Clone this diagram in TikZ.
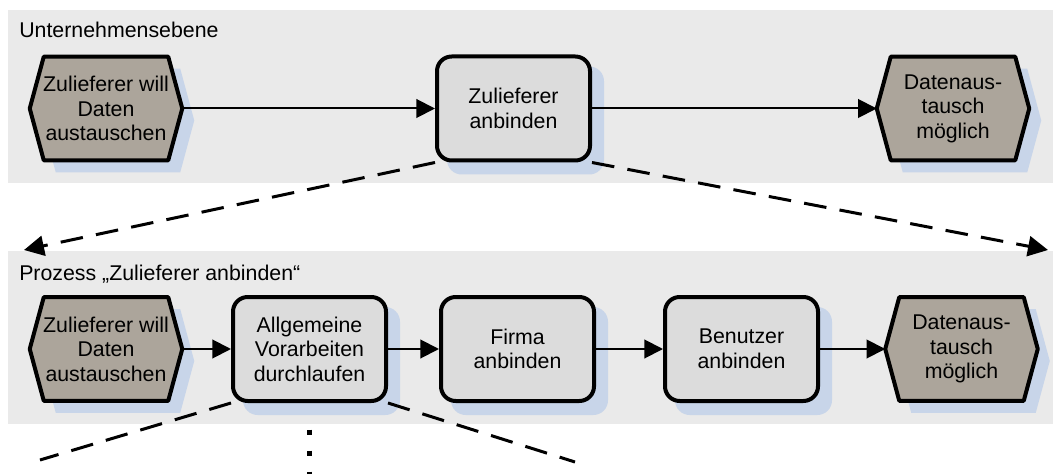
\documentclass[tikz,border=0pt]{standalone}
\usepackage{fontspec}
\setmainfont{Liberation Sans}
\usetikzlibrary{arrows.meta,calc}

\definecolor{panelgray}{HTML}{EAEAEA}
\definecolor{eventfill}{HTML}{ACA59B}
\definecolor{funcfill}{HTML}{DCDCDC}
\definecolor{shadowblue}{HTML}{C8D5E9}

\pgfdeclarelayer{panels}
\pgfdeclarelayer{shadows}
\pgfdeclarelayer{outlines}
\pgfsetlayers{panels,shadows,outlines,main}

\begin{document}
\begin{tikzpicture}[x=0.75pt,y=-0.75pt,
  txt/.style={font=\fontsize{16}{18.4}\selectfont},
  panel/.style={fill=panelgray,draw=none},
  paneltitle/.style={txt,anchor=base west,inner sep=0pt},
  func/.style={txt,rectangle,rounded corners=11pt,draw=black,line width=3pt,
    fill=funcfill,minimum width=114.75pt,minimum height=78pt,align=center,inner sep=0pt},
  event/.style={txt,rectangle,draw=none,minimum width=114pt,minimum height=77.25pt,
    align=center,inner sep=0pt},
  eventline/.style={draw=black,line width=3pt,fill=eventfill,line join=round},
  shade/.style={fill=shadowblue},
  flow/.style={line width=1.5pt,-{Triangle[length=14pt,width=14pt]}},
  refine/.style={line width=2.25pt,dash pattern=on 17pt off 10pt},
  refinearrow/.style={refine,-{Triangle[length=15pt,width=15pt]}},
  dots/.style={line width=3.75pt,dash pattern=on 3.75pt off 12pt}
]
\useasboundingbox (0,0) rectangle (1053,474);

% level panels
\begin{pgfonlayer}{panels}
  \path[panel] (8,10) rectangle (1053,183);
  \path[panel] (8,251) rectangle (1053,424);
\end{pgfonlayer}

\node[paneltitle] (t1) at (19,38) {Unternehmensebene};
\node[paneltitle] (t2) at (19,280) {Prozess „Zulieferer anbinden“};

% upper level
\node[event] (e1) at (106,108.5) {Zulieferer will\\Daten\\austauschen};
\node[func]  (f0) at (513.5,108.5) {Zulieferer\\anbinden};
\node[event] (e2) at (953,108.5) {Datenaus-\\tausch\\möglich};

% lower level
\node[event] (e3) at (106,349) {Zulieferer will\\Daten\\austauschen};
\node[func]  (f1) at (309.5,349) {Allgemeine\\Vorarbeiten\\durchlaufen};
\node[func]  (f2) at (517.5,349) {Firma\\anbinden};
\node[func]  (f3) at (741.5,349) {Benutzer\\anbinden};
\node[event] (e4) at (961.5,349) {Datenaus-\\tausch\\möglich};

% hexagonal event outlines and drop shadows
\begin{pgfonlayer}{outlines}
  \foreach \n in {e1,e2,e3,e4} {
    \path[eventline] (\n.west) -- ($(\n.north west)+(14,0)$) -- ($(\n.north east)+(-14,0)$)
      -- (\n.east) -- ($(\n.south east)+(-14,0)$) -- ($(\n.south west)+(14,0)$) -- cycle;
  }
\end{pgfonlayer}
\begin{pgfonlayer}{shadows}
  \foreach \n in {e1,e2,e3,e4} {
    \path[shade] ($(\n.west)+(12,12)$) -- ($(\n.north west)+(26,12)$) -- ($(\n.north east)+(-2,12)$)
      -- ($(\n.east)+(12,12)$) -- ($(\n.south east)+(-2,12)$) -- ($(\n.south west)+(26,12)$) -- cycle;
  }
  \foreach \n in {f0,f1,f2,f3} {
    \path[shade,rounded corners=11pt] ($(\n.south west)+(12,12)$) rectangle ($(\n.north east)+(12,12)$);
  }
\end{pgfonlayer}

% control flow
\draw[flow] (e1.east) -- (f0.west);
\draw[flow] (f0.east) -- (e2.west);
\draw[flow] (e3.east) -- (f1.west);
\draw[flow] (f1.east) -- (f2.west);
\draw[flow] (f2.east) -- (f3.west);
\draw[flow] (f3.east) -- (e4.west);

% refinement of the upper function
\coordinate (rl) at (24,250);
\coordinate (rr) at (1048,250);
\draw[refinearrow] (f0.south west) -- (rl);
\draw[refinearrow] (f0.south east) -- (rr);

% refinement of the first lower function
\coordinate (sl) at (40,460);
\coordinate (sr) at (575,462);
\coordinate (dtop) at (309.5,429.5);
\coordinate (dbot) at (309.5,474);
\draw[refine] (f1.south west) -- (sl);
\draw[refine] (f1.south east) -- (sr);
\draw[dots] (dtop) -- (dbot);
\end{tikzpicture}
\end{document}
